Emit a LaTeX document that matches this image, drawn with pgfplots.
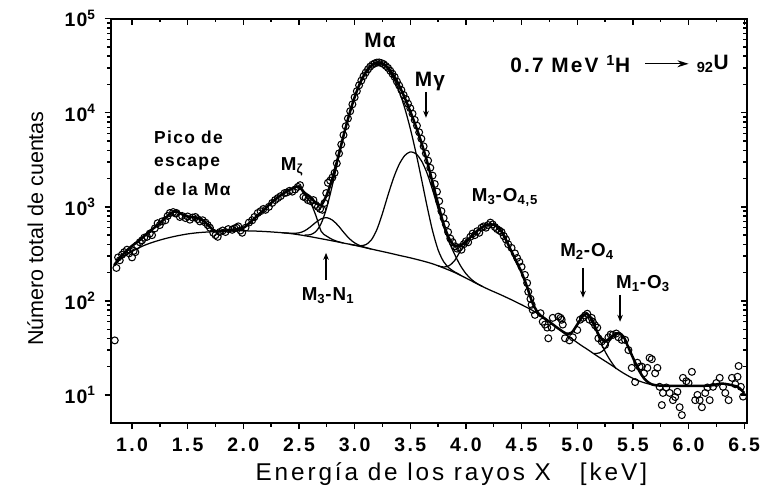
\documentclass[border=0pt]{standalone}
\usepackage{fontspec}
\setmainfont{Liberation Sans}
\usepackage{pgfplots}
\pgfplotsset{compat=1.18}
\usetikzlibrary{arrows.meta}
\begin{document}
\begin{tikzpicture}
% inner ticks on top and right
\begin{axis}[
    scale only axis, width=458pt, height=291pt,
    at={(79.9pt,49.7pt)}, anchor=south west,
    xmin=0.811, xmax=6.526, ymode=log, ymin=5.04, ymax=1e5,
    axis line style={line width=1.4pt},
    major tick length=4.5pt, minor tick length=2.6pt,
    every tick/.style={line width=1pt,black},
    xtick={1,1.5,...,6.5}, minor x tick num=1,
    ytick={10,100,1000,10000,100000},
    clip=false,
    xtick pos=right, ytick pos=right, tick align=inside,
    xticklabels={}, yticklabels={}]
\end{axis}
\begin{axis}[
    scale only axis, width=458pt, height=291pt,
    at={(79.9pt,49.7pt)}, anchor=south west,
    xmin=0.811, xmax=6.526, ymode=log, ymin=5.04, ymax=1e5,
    axis line style={line width=1.4pt},
    major tick length=4.5pt, minor tick length=2.6pt,
    every tick/.style={line width=1pt,black},
    xtick={1,1.5,...,6.5}, minor x tick num=1,
    ytick={10,100,1000,10000,100000},
    clip=false,
    xtick pos=left, ytick pos=left, tick align=outside,
  xticklabels={1.0,1.5,2.0,2.5,3.0,3.5,4.0,4.5,5.0,5.5,6.0,6.5},
  yticklabels={10\textsuperscript{1},10\textsuperscript{2},10\textsuperscript{3},10\textsuperscript{4},10\textsuperscript{5}},
  xticklabel style={font=\fontsize{14}{16}\selectfont\bfseries\addfontfeatures{LetterSpace=12}, yshift=-3pt},
  yticklabel style={font=\fontsize{14}{16}\selectfont\bfseries\addfontfeatures{LetterSpace=6}, xshift=-3pt},
  xlabel={Energía de los rayos X \ \ [keV]},
  xlabel style={font=\fontsize{17.5}{19}\selectfont\addfontfeatures{LetterSpace=12}, at={(axis description cs:0.535,0)}, anchor=north, yshift=-25pt},
  ylabel={Número total de cuentas},
  ylabel style={font=\fontsize{15.5}{17}\selectfont, at={(axis description cs:-0.119,0.481)}, anchor=center},
]
% experimental points
\addplot[only marks, mark=o, mark size=2.5pt, mark options={line width=0.75pt, fill=white, draw=black}] coordinates {
(0.845,38) (0.86,224) (0.875,290) (0.89,270) (0.91,310) (0.93,330) (0.955,350) (0.975,320) (1.0,290) (1.015,340)
(1.03,330) (1.045,390) (1.07,420) (1.09,440) (1.11,470) (1.135,480) (1.16,520) (1.18,500) (1.205,590) (1.23,670)
(1.25,640) (1.27,700) (1.3,720) (1.32,800) (1.34,860) (1.37,880) (1.39,850) (1.40,860) (1.43,780) (1.45,800)
(1.48,760) (1.50,790) (1.52,730) (1.545,770) (1.57,780) (1.59,740) (1.61,700) (1.635,720) (1.66,680) (1.68,640)
(1.70,600) (1.73,530) (1.75,500) (1.77,480) (1.79,540) (1.815,560) (1.84,540) (1.865,580) (1.9,570) (1.92,590)
(1.94,600) (1.955,620) (1.975,560) (1.99,530) (2.02,600) (2.05,680) (2.08,720) (2.1,780) (2.13,860) (2.155,900)
(2.18,950) (2.2,930) (2.23,1000) (2.26,1100) (2.285,1180) (2.31,1240) (2.335,1300) (2.37,1400) (2.39,1420) (2.415,1480)
(2.44,1450) (2.465,1530) (2.49,1630) (2.51,1700) (2.54,1280) (2.56,1250) (2.58,1180) (2.605,1150) (2.63,1180) (2.65,1050)
(2.67,1000) (2.69,950) (2.71,930) (2.73,1100) (2.745,1400) (2.76,1800) (2.78,1900) (2.8,2050)
(2.82,2300) (2.84,2900) (2.86,3700) (2.88,4600) (2.90,5800) (2.92,7200) (2.94,8700) (2.96,10400) (2.98,12300) (3.00,14600)
(3.02,17000) (3.04,19600) (3.06,22000) (3.08,24500) (3.10,26800) (3.12,29000) (3.14,31000) (3.16,32500) (3.18,33500) (3.20,34200)
(3.22,34300) (3.24,33800) (3.26,33000) (3.28,31500) (3.30,30000) (3.32,28000) (3.34,26000) (3.36,24000) (3.38,21500) (3.40,19500)
(3.42,17500) (3.44,15500) (3.46,14000) (3.48,12500) (3.50,11200) (3.52,9800) (3.54,8400) (3.56,7300) (3.58,6200) (3.60,5300)
(3.62,4400) (3.64,3700) (3.66,3100) (3.68,2600) (3.70,2150) (3.72,1750) (3.74,1450) (3.76,1150) (3.78,900) (3.80,760)
(3.82,650) (3.84,540) (3.86,460) (3.88,420) (3.90,380) (3.92,360) (3.94,370) (3.96,350) (3.98,400) (4.00,430)
(4.02,420) (4.04,480) (4.06,520) (4.08,500) (4.10,550) (4.12,530) (4.14,600) (4.16,620) (4.18,600) (4.20,640)
(4.22,680) (4.24,650) (4.26,610) (4.28,580) (4.30,560) (4.32,540) (4.34,490) (4.36,450) (4.38,400)
(4.41,366) (4.44,320) (4.46,286) (4.48,260) (4.50,230) (4.53,189) (4.55,155) (4.56,125) (4.58,105) (4.59,91)
(4.60,80) (4.62,71) (4.67,74) (4.69,60) (4.71,56) (4.73,52) (4.74,40) (4.77,52) (4.78,66) (4.83,68)
(4.85,66) (4.86,63) (4.87,56) (4.89,40) (4.93,38) (4.96,41) (5.00,49) (5.025,63) (5.05,66) (5.07,70)
(5.09,73) (5.11,63) (5.13,66) (5.14,60) (5.16,55) (5.18,52) (5.19,40) (5.22,37) (5.25,34) (5.28,41)
(5.30,44) (5.32,43.5) (5.35,45) (5.37,41) (5.40,38.5) (5.43,38.5) (5.46,30) (5.49,19.4) (5.52,13.7) (5.54,22)
(5.56,19.9) (5.58,20) (5.60,17) (5.63,19.4) (5.65,24.8) (5.67,24) (5.70,17) (5.72,19.4) (5.74,12.2) (5.76,7.8)
(5.77,10.5) (5.80,12) (5.83,10.5) (5.86,8.8) (5.88,9.5) (5.90,10.8) (5.92,7.4) (5.94,6.1) (5.95,15.2) (5.98,14)
(6.00,13.4) (6.03,17.6) (6.06,8.8) (6.08,10) (6.10,8.8) (6.12,7.4) (6.15,10.5) (6.17,12) (6.19,8.8) (6.22,12.2)
(6.25,13.4) (6.28,15.2) (6.31,12.2) (6.33,10.5) (6.36,8.8) (6.39,15.2) (6.42,13) (6.44,15.6) (6.45,20.3) (6.47,12.2)
(6.49,9.6)
};
% background
\addplot[black, line width=0.9pt, smooth] coordinates {
(0.84,235) (0.9,280) (1.0,335) (1.1,385) (1.2,425) (1.3,460) (1.4,490) (1.5,515) (1.6,532) (1.7,542)
(1.8,550) (1.9,555) (2.0,556) (2.1,553) (2.2,546) (2.3,536) (2.4,524) (2.5,505) (2.6,482) (2.7,458)
(2.8,435) (2.9,412) (3.0,390) (3.1,367) (3.2,345) (3.3,325) (3.4,305) (3.5,287) (3.6,268) (3.7,248)
(3.8,224) (3.9,200) (4.0,175) (4.1,152) (4.2,133) (4.3,118) (4.4,104) (4.5,91) (4.6,79) (4.7,66)
(4.8,54) (4.9,44) (5.0,36) (5.1,30) (5.2,25) (5.3,21) (5.4,17.5) (5.5,15) (5.6,13.5) (5.7,12.7)
(5.8,12.5) (5.9,12.5) (6.0,12.5) (6.1,12.5) (6.2,12.6) (6.3,13.2) (6.4,12.6) (6.45,12) (6.5,10.5)
};
% M zeta component
\addplot[black, line width=0.9pt, smooth] coordinates {
(2.0,596) (2.05,665) (2.1,753) (2.15,850) (2.2,966) (2.25,1101) (2.3,1236) (2.35,1360) (2.4,1484) (2.45,1575)
(2.5,1625) (2.55,1344) (2.6,1132) (2.65,820) (2.7,548) (2.75,487) (2.8,450) (2.85,427) (2.9,412)
};
% M3-N1 component
\addplot[black, line width=0.9pt, smooth] coordinates {
(2.35,530) (2.4,526) (2.45,523) (2.5,529) (2.55,555) (2.6,609) (2.65,682) (2.7,746) (2.75,767) (2.8,723)
(2.85,636) (2.9,539) (2.95,462) (3.0,414) (3.05,386) (3.1,369) (3.15,356)
};
% M alpha component
\addplot[black, line width=0.9pt, smooth] coordinates {
(2.55,501) (2.6,505) (2.65,544) (2.7,668) (2.75,987) (2.8,1699) (2.85,3106) (2.9,5572) (2.95,9401) (3.0,14630)
(3.05,20818) (3.1,26977) (3.15,31766) (3.2,33975) (3.25,32995) (3.3,29095) (3.35,23295) (3.4,16955) (3.45,11236) (3.5,6805)
(3.55,3803) (3.6,1996) (3.65,1026) (3.7,558) (3.75,349) (3.8,261) (3.85,223) (3.9,203) (3.95,189)
};
% M gamma component
\addplot[black, line width=0.9pt, smooth] coordinates {
(2.95,401) (3.0,392) (3.05,386) (3.1,396) (3.15,444) (3.2,574) (3.25,851) (3.3,1335) (3.35,2029) (3.4,2824)
(3.45,3508) (3.5,3837) (3.55,3678) (3.6,3093) (3.65,2292) (3.7,1518) (3.75,956) (3.8,614) (3.85,422) (3.9,310)
(3.95,238) (4.0,195) (4.05,169) (4.1,153) (4.15,142)
};
% M3-O4,5 component
\addplot[black, line width=0.9pt, smooth] coordinates {
(3.75,236) (3.8,229) (3.85,237) (3.9,270) (3.95,338) (4.0,405) (4.05,483) (4.1,552) (4.15,612) (4.2,648)
(4.25,645) (4.3,588) (4.35,471) (4.4,354) (4.45,267) (4.5,201) (4.55,140) (4.6,94) (4.65,74) (4.7,66)
};
% M2-O4 component
\addplot[black, line width=0.9pt, smooth] coordinates {
(4.85,49) (4.9,45) (4.95,46) (5.0,56) (5.05,69) (5.09,72.5) (5.12,66) (5.15,55.5) (5.2,39) (5.25,29)
(5.3,23) (5.35,19)
};
% M1-O3 component
\addplot[black, line width=0.9pt, smooth] coordinates {
(5.15,27.5) (5.2,28) (5.25,31) (5.3,39) (5.35,45) (5.38,45.5) (5.42,41) (5.45,34) (5.5,25) (5.55,18.7)
(5.6,15) (5.65,13.3) (5.7,12.7)
};
% total fit
\addplot[black, line width=1.8pt, smooth] coordinates {
(0.84,240) (0.87,268) (0.9,295) (0.95,340) (1.0,385) (1.05,425) (1.1,475) (1.15,540) (1.2,600) (1.25,670)
(1.3,760) (1.35,860) (1.38,890) (1.42,870) (1.46,820) (1.5,790) (1.55,775) (1.6,755) (1.65,700) (1.7,610)
(1.75,548) (1.8,552) (1.85,560) (1.9,570) (1.95,580) (2.0,596) (2.05,665) (2.1,753) (2.15,850) (2.2,966)
(2.25,1101) (2.3,1236) (2.35,1360) (2.4,1486) (2.45,1583) (2.5,1649) (2.55,1412) (2.6,1282) (2.65,1106) (2.7,1046)
(2.75,1347) (2.8,2002) (2.85,3321) (2.9,5699) (2.95,9462) (3.0,14656) (3.05,20834) (3.1,27008) (3.15,31854) (3.2,34204)
(3.25,33511) (3.3,30105) (3.35,25009) (3.4,19474) (3.45,14448) (3.5,10355) (3.55,7203) (3.6,4821) (3.65,3060) (3.7,1828)
(3.75,1069) (3.8,656) (3.85,458) (3.9,383) (3.95,389) (4.0,425) (4.05,489) (4.1,553) (4.15,612) (4.2,648)
(4.25,645) (4.3,588) (4.35,471) (4.4,354) (4.45,267) (4.5,201) (4.55,140) (4.6,94) (4.65,74) (4.7,66)
(4.75,60) (4.8,54) (4.85,49) (4.9,45) (4.95,46) (5.0,56) (5.05,69) (5.09,72.5) (5.12,66) (5.15,56.5)
(5.2,42) (5.25,37) (5.3,41) (5.35,45) (5.38,45.5) (5.42,41) (5.45,34) (5.5,25) (5.55,18.7) (5.6,15)
(5.65,13.3) (5.7,12.7) (5.8,12.5) (5.9,12.5) (6.0,12.5) (6.1,12.5) (6.2,12.6) (6.3,13.2) (6.4,12.6) (6.45,12)
(6.5,10.5)
};
% annotations
\begin{scope}[every node/.style={font=\fontsize{13.5}{15}\selectfont\bfseries\addfontfeatures{LetterSpace=6}}]
\node at (axis cs:3.228,58300) {\fontsize{15}{16}\selectfont Mα};
\node at (axis cs:3.677,21400) {\fontsize{15}{16}\selectfont Mγ};
\draw[line width=1pt, -{Stealth[length=5pt,width=4pt]}] (axis cs:3.641,16700) -- (axis cs:3.641,8850);
\node at (axis cs:2.438,2670) {M\textsubscript{ζ}};
\draw[line width=1pt, -{Stealth[length=5pt,width=4pt]}] (axis cs:2.743,167) -- (axis cs:2.743,324);
\node at (axis cs:2.761,113) {M\textsubscript{3}-N\textsubscript{1}};
\node at (axis cs:4.351,1250) {M\textsubscript{3}-O\textsubscript{4,5}};
\node at (axis cs:5.088,332) {M\textsubscript{2}-O\textsubscript{4}};
\draw[line width=1pt, -{Stealth[length=5pt,width=4pt]}] (axis cs:5.052,224) -- (axis cs:5.052,108);
\node at (axis cs:5.591,152) {M\textsubscript{1}-O\textsubscript{3}};
\draw[line width=1pt, -{Stealth[length=5pt,width=4pt]}] (axis cs:5.385,116) -- (axis cs:5.385,60);
\node[anchor=west, font=\fontsize{12.5}{14}\selectfont\bfseries\addfontfeatures{LetterSpace=8}] at (axis cs:1.155,5480) {Pico de};
\node[anchor=west, font=\fontsize{12.5}{14}\selectfont\bfseries\addfontfeatures{LetterSpace=8}] at (axis cs:1.155,2865) {escape};
\node[anchor=west, font=\fontsize{12.5}{14}\selectfont\bfseries\addfontfeatures{LetterSpace=8}] at (axis cs:1.155,1553) {de la Mα};
\node[anchor=east, font=\fontsize{15}{16}\selectfont\bfseries\addfontfeatures{LetterSpace=10}] at (axis cs:5.52,33200) {0.7 MeV \textsuperscript{1}H};
\draw[line width=1pt, -{Stealth[length=8pt,width=5pt]}] (axis cs:5.609,33200) -- (axis cs:6.0,33200);
\node[anchor=west, font=\fontsize{15}{16}\selectfont\bfseries] at (axis cs:6.03,33200) {\textsubscript{92}U};
\end{scope}
\end{axis}
\pgfresetboundingbox
\useasboundingbox (0,0) rectangle (547.2pt,354.2pt);
\end{tikzpicture}
\end{document}
